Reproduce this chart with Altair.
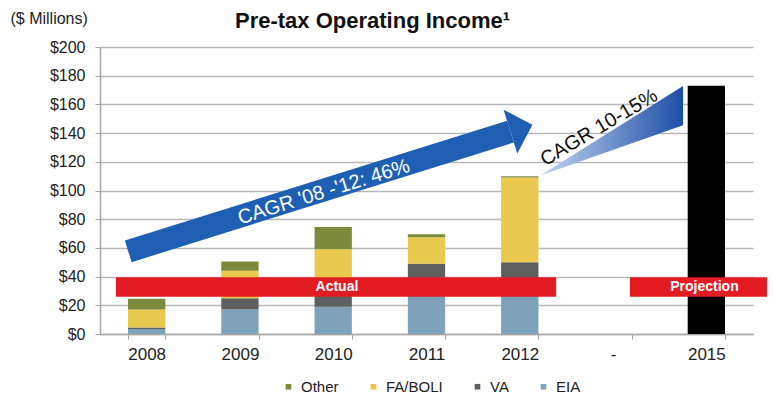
import altair as alt
import pandas as pd

# ---- data ----
years = ["2008", "2009", "2010", "2011", "2012", "-", "2015"]
actual_years = ["2008", "2009", "2010", "2011", "2012"]
eia = [3.5, 17, 19, 27, 27]
va = [1, 8, 8, 22, 23]
fa_boli = [12.5, 19, 32, 18.5, 59]
other = [7.5, 6.5, 15.5, 2, 1]
proj_year = "2015"
proj_total = [173]

series = ["Other", "FA/BOLI", "VA", "EIA", "Projected"]
series_colors = ["#7d8a3c", "#e9c94e", "#5f5f5f", "#7da2b9", "#000000"]
stack_rank = {"EIA": 0, "VA": 1, "FA/BOLI": 2, "Other": 3, "Projected": 0}

# annotation geometry in data units (x: category slots 0..7, y: $M)
band_labels = ["Actual", "Projection"]
band_x = [0.17, 5.68]
band_x2 = [4.89, 7.15]
band_y = [26, 26]
band_y2 = [39.5, 39.5]
band_text_x = [2.54, 6.48]
band_text_y = [32.6, 32.6]

arrow1_x = [0.303, 4.40]
arrow1_y = [57.6, 141.0]
arrow1_label = "CAGR '08 -'12: 46%"
arrow1_label_pos = [2.40, 98.9]

wedge_x = [4.72, 6.25]
wedge_y = [110.4, 145.5]
wedge_y2 = [110.4, 172.8]
arrow2_label = "CAGR 10-15%"
arrow2_label_pos = [5.35, 143.8]

FONT = "Liberation Sans"

rows = []
for i, yr in enumerate(actual_years):
    for name, vals in [("EIA", eia), ("VA", va), ("FA/BOLI", fa_boli), ("Other", other)]:
        rows.append({"year": yr, "series": name, "value": vals[i], "rank": stack_rank[name]})
rows.append({"year": proj_year, "series": "Projected", "value": proj_total[0], "rank": 0})
bars_df = pd.DataFrame(rows)

yscale = alt.Scale(domain=[0, 200], nice=False)
xq = alt.Scale(domain=[0, 7], nice=False, zero=False)

yaxis = alt.Axis(values=list(range(0, 201, 20)), labelExpr="'$' + datum.value",
                 tickSize=5, tickColor="#a6a6a6", domainColor="#a6a6a6",
                 domainWidth=1.5, labelPadding=10, labelFontSize=16,
                 labelColor="#222", labelFont=FONT,
                 grid=True, gridColor="#b8b8b8", gridWidth=1.5,
                 title="($ Millions)", titleAngle=0, titleX=-90, titleY=-29,
                 titleAlign="left", titleBaseline="middle", titleFontSize=16,
                 titleFontWeight="normal", titleFont=FONT, titleColor="#222")


def Y(field):
    return alt.Y(field, scale=yscale, axis=yaxis)


def XQ(field):
    return alt.X(field, scale=xq, axis=None)


bars = alt.Chart(bars_df).mark_bar().encode(
    x=alt.X("year:N", sort=years,
            scale=alt.Scale(domain=years, paddingInner=0.6, paddingOuter=0.3),
            axis=alt.Axis(title=None, labelAngle=0, tickBand="extent", tickSize=5,
                          labelFontSize=17, labelPadding=7, labelColor="#222",
                          labelFont=FONT, domainColor="#a6a6a6", tickColor="#a6a6a6",
                          domainWidth=1.5, grid=False)),
    y=alt.Y("value:Q", stack="zero", scale=yscale, axis=yaxis),
    color=alt.Color("series:N",
                    scale=alt.Scale(domain=series, range=series_colors),
                    legend=alt.Legend(values=["Other", "FA/BOLI", "VA", "EIA"],
                                      orient="none", legendX=181, legendY=332,
                                      direction="horizontal", title=None,
                                      symbolType="square", symbolSize=32,
                                      symbolStrokeWidth=0, labelFontSize=15,
                                      labelFont=FONT, labelColor="#222",
                                      columnPadding=27, labelOffset=5)),
    order=alt.Order("rank:Q", sort="ascending"),
)

bands_df = pd.DataFrame({"label": band_labels, "x": band_x, "x2": band_x2,
                         "y": band_y, "y2": band_y2,
                         "tx": band_text_x, "ty": band_text_y})
bands = alt.Chart(bands_df).mark_rect(color="#e31b23").encode(
    x=XQ("x:Q"), x2="x2:Q", y=Y("y:Q"), y2="y2:Q")
band_text = alt.Chart(bands_df).mark_text(color="white", fontWeight="bold",
                                          fontSize=14, font=FONT).encode(
    x=XQ("tx:Q"), y=Y("ty:Q"), text="label:N")

a1_df = pd.DataFrame({"x": arrow1_x, "y": arrow1_y})
shaft = alt.Chart(a1_df).mark_line(color="#1f5fb3", strokeWidth=22.7, strokeCap="butt").encode(
    x=XQ("x:Q"), y=Y("y:Q"))
head = alt.Chart(a1_df.iloc[[1]]).mark_point(shape="M0,-1L1,0L0,1Z", size=2116, angle=342.7,
                                            filled=True, opacity=1, color="#1f5fb3",
                                            strokeWidth=0).encode(
    x=XQ("x:Q"), y=Y("y:Q"))
a1_text = alt.Chart(pd.DataFrame({"x": [arrow1_label_pos[0]], "y": [arrow1_label_pos[1]],
                                  "t": [arrow1_label]})).mark_text(
    color="white", fontSize=20, angle=342.7, font=FONT).encode(
    x=XQ("x:Q"), y=Y("y:Q"), text="t:N")

wedge_df = pd.DataFrame({"x": wedge_x, "y": wedge_y, "y2": wedge_y2})
wedge = alt.Chart(wedge_df).mark_area(
    color=alt.LinearGradient(gradient="linear",
                             stops=[alt.GradientStop(color="#c3d5f0", offset=0),
                                    alt.GradientStop(color="#1d4ea6", offset=1)],
                             x1=0, x2=1, y1=0, y2=0)).encode(
    x=XQ("x:Q"), y=Y("y:Q"), y2="y2:Q")
a2_text = alt.Chart(pd.DataFrame({"x": [arrow2_label_pos[0]], "y": [arrow2_label_pos[1]],
                                  "t": [arrow2_label]})).mark_text(
    color="#111", fontSize=20, angle=329.5, font=FONT).encode(
    x=XQ("x:Q"), y=Y("y:Q"), text="t:N")

chart = alt.layer(bars, bands, band_text, shaft, head, a1_text, wedge, a2_text).resolve_scale(
    x="independent"
).properties(
    width=653, height=287,
    autosize=alt.AutoSizeParams(type="none"),
    padding={"left": 92, "top": 39, "right": 14, "bottom": 62},
    title=alt.TitleParams("Pre-tax Operating Income¹", anchor="start", frame="group",
                          dx=135, offset=-23, fontSize=22,
                          fontWeight="bold", font=FONT, color="#111"),
    background="white",
).configure_view(stroke=None)

chart.save("out.html", embed_options={"renderer": "svg", "actions": False})
